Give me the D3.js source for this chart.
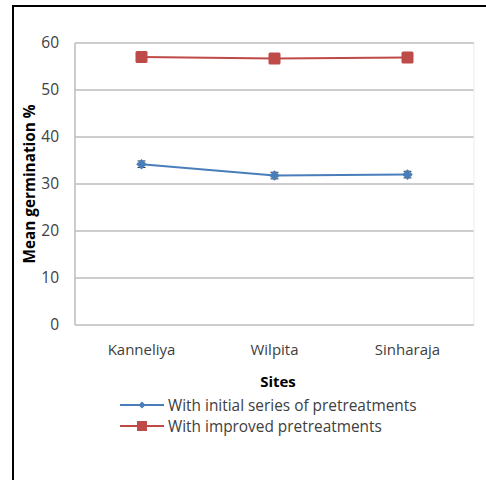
<!DOCTYPE html>
<html>
<head>
<meta charset="utf-8">
<script src="https://cdn.jsdelivr.net/npm/d3@7"></script>
<style>
  html, body { margin: 0; padding: 0; background: #fff; }
  svg { display: block; }
</style>
</head>
<body>
<svg id="chart" width="486" height="480"></svg>
<script>
// Germination data by site
const sites = ["Kanneliya", "Wilpita", "Sinharaja"];
const initialSeries = [34.2, 31.8, 32.0];
const initialErr = [0.7, 0.7, 0.7];
const improvedSeries = [57.0, 56.7, 56.9];
const yTicks = [0, 10, 20, 30, 40, 50, 60];
const seriesNames = ["With initial series of pretreatments", "With improved pretreatments"];

const svg = d3.select("#chart");
const font = "'Open Sans', sans-serif";

// Frame lines (top and left)
svg.append("line").attr("x1", 13).attr("y1", 6).attr("x2", 486).attr("y2", 6)
  .attr("stroke", "#000").attr("stroke-width", 2);
svg.append("line").attr("x1", 13).attr("y1", 5).attr("x2", 13).attr("y2", 480)
  .attr("stroke", "#000").attr("stroke-width", 2);

const plot = { left: 75, right: 474, top: 43, bottom: 325 };

const x = d3.scaleBand().domain(sites).range([plot.left, plot.right]);
const y = d3.scaleLinear().domain([0, 60]).range([plot.bottom, plot.top]);

// Gridlines
svg.append("g").selectAll("line").data(yTicks).join("line")
  .attr("x1", plot.left).attr("x2", plot.right)
  .attr("y1", d => y(d)).attr("y2", d => y(d))
  .attr("stroke", "#bdbdbd").attr("stroke-width", 1.5);

// Plot area edges
svg.append("line").attr("x1", plot.left).attr("x2", plot.left)
  .attr("y1", plot.top).attr("y2", plot.bottom)
  .attr("stroke", "#bdbdbd").attr("stroke-width", 1.5);
svg.append("line").attr("x1", plot.right).attr("x2", plot.right)
  .attr("y1", plot.top).attr("y2", plot.bottom)
  .attr("stroke", "#ececec").attr("stroke-width", 1);

// Y axis labels
const yAxis = d3.axisLeft(y).tickValues(yTicks).tickSize(0).tickPadding(16);
const yg = svg.append("g").attr("transform", `translate(${plot.left},0)`).call(yAxis);
yg.select(".domain").remove();
yg.selectAll("text").attr("font-family", font).attr("font-size", 15.5).attr("fill", "#404040");

// X axis labels
const xAxis = d3.axisBottom(x).tickSize(0).tickPadding(19);
const xg = svg.append("g").attr("transform", `translate(0,${plot.bottom})`).call(xAxis);
xg.select(".domain").remove();
xg.selectAll("text").attr("font-family", font).attr("font-size", 15).attr("fill", "#404040");

// Axis titles
svg.append("text").attr("x", 278).attr("y", 387).attr("text-anchor", "middle")
  .attr("font-family", font).attr("font-size", 15).attr("font-weight", "bold").attr("fill", "#000")
  .text("Sites");
svg.append("text").attr("transform", "translate(35,184) rotate(-90)").attr("text-anchor", "middle")
  .attr("font-family", font).attr("font-size", 15.3).attr("font-weight", "bold").attr("fill", "#000")
  .text("Mean germination %");

const cx = d => x(d) + x.bandwidth() / 2;
const line = d3.line().x(d => cx(d.site)).y(d => y(d.v));

const blue = "#4a7ebb", red = "#be4b48";

// Improved series
const improved = sites.map((s, i) => ({ site: s, v: improvedSeries[i] }));
svg.append("path").datum(improved).attr("d", line)
  .attr("fill", "none").attr("stroke", red).attr("stroke-width", 2);
svg.append("g").selectAll("rect").data(improved).join("rect")
  .attr("x", d => cx(d.site) - 6).attr("y", d => y(d.v) - 6)
  .attr("width", 12).attr("height", 12).attr("rx", 1.5)
  .attr("fill", red);

// Initial series with error bars
const initial = sites.map((s, i) => ({ site: s, v: initialSeries[i], e: initialErr[i] }));
svg.append("path").datum(initial).attr("d", line)
  .attr("fill", "none").attr("stroke", blue).attr("stroke-width", 2);
const eb = svg.append("g").attr("stroke", "#333").attr("stroke-width", 1);
initial.forEach(d => {
  const xc = cx(d.site);
  eb.append("line").attr("x1", xc).attr("x2", xc).attr("y1", y(d.v + d.e)).attr("y2", y(d.v - d.e));
  eb.append("line").attr("x1", xc - 4).attr("x2", xc + 4).attr("y1", y(d.v + d.e)).attr("y2", y(d.v + d.e));
  eb.append("line").attr("x1", xc - 4).attr("x2", xc + 4).attr("y1", y(d.v - d.e)).attr("y2", y(d.v - d.e));
});
// Diamond markers: squares turned 45°
const diamond = d3.symbol().type(d3.symbolSquare).size(56);
svg.append("g").selectAll("path").data(initial).join("path")
  .attr("transform", d => `translate(${cx(d.site)},${y(d.v)}) rotate(45)`)
  .attr("d", diamond).attr("fill", blue);

// Legend
const legend = svg.append("g");
const legendRows = [
  { name: seriesNames[0], color: blue, y: 405, marker: "diamond" },
  { name: seriesNames[1], color: red, y: 426, marker: "square" }
];
legendRows.forEach(r => {
  legend.append("line").attr("x1", 120).attr("x2", 164).attr("y1", r.y).attr("y2", r.y)
    .attr("stroke", r.color).attr("stroke-width", 2);
  if (r.marker === "diamond") {
    legend.append("path").attr("transform", `translate(142,${r.y}) rotate(45)`)
      .attr("d", d3.symbol().type(d3.symbolSquare).size(26)).attr("fill", r.color);
  } else {
    legend.append("rect").attr("x", 137).attr("y", r.y - 5).attr("width", 10).attr("height", 10)
      .attr("fill", r.color);
  }
  legend.append("text").attr("x", 168).attr("y", r.y + 5.5)
    .attr("font-family", font).attr("font-size", 15.4).attr("fill", "#404040")
    .text(r.name);
});
</script>
</body>
</html>
